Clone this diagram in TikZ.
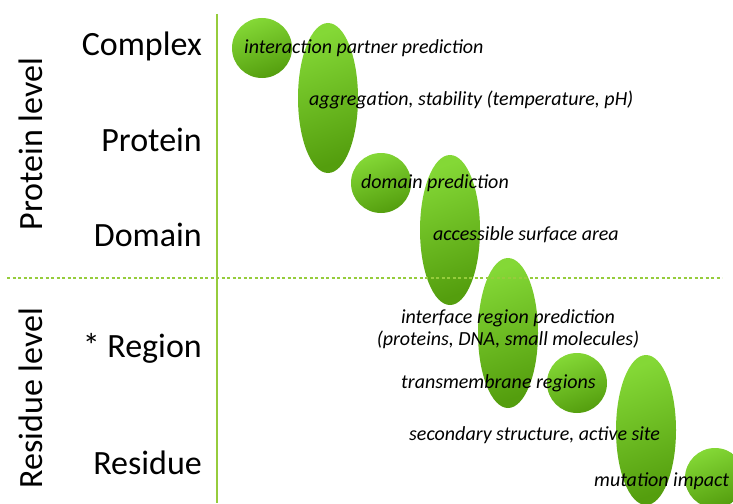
\documentclass[tikz,border=0pt]{standalone}
\usepackage{fontspec}
\setmainfont{Carlito}
\usetikzlibrary{shapes.geometric}
\definecolor{blobtop}{RGB}{132,216,54}
\definecolor{blobbot}{RGB}{84,158,14}
\definecolor{axisgreen}{RGB}{150,204,60}
\tikzset{
  blob/.style={ellipse, inner sep=0pt, top color=blobtop, bottom color=blobbot, shading angle=20},
  circblob/.style={blob, minimum width=60pt, minimum height=60pt},
  longblob/.style={blob, minimum width=60pt, minimum height=150pt},
  levellabel/.style={font=\fontsize{34}{40}\selectfont, inner sep=0pt, anchor=base east},
  sidelabel/.style={font=\fontsize{34}{40}\selectfont, inner sep=0pt, anchor=base, rotate=90},
  task/.style={font=\fontsize{20}{24}\selectfont\itshape, inner sep=0pt, anchor=base west},
  taskc/.style={task, anchor=base},
  axisline/.style={draw=axisgreen, line width=1.3pt},
  sepline/.style={draw=axisgreen, line width=1.3pt, dash pattern=on 3pt off 2.5pt}
}
\begin{document}
\begin{tikzpicture}[x=1pt,y=-1pt]
\useasboundingbox (0,0) rectangle (733,503);
\clip (0,0) rectangle (733,503);
% blobs
\node[circblob] (b1) at (262,48) {};
\node[longblob] (b2) at (328,98) {};
\node[circblob] (b3) at (381,183) {};
\node[longblob] (b4) at (450,230) {};
\node[longblob] (b5) at (508,333) {};
\node[circblob] (b6) at (577,383) {};
\node[longblob] (b7) at (646,430) {};
\node[circblob] (b8) at (715,478) {};
% axes
\coordinate (vtop) at (217,14);
\coordinate (vbot) at (217,503);
\draw[axisline] (vtop) -- (vbot);
\coordinate (hleft) at (7,278);
\coordinate (hright) at (722,278);
\draw[sepline] (hleft) -- (hright);
% level labels
\node[levellabel] (complex) at (202,56) {Complex};
\node[levellabel] (protein) at (202,151) {Protein};
\node[levellabel] (domain) at (202,246) {Domain};
\node[levellabel] (region) at (202,357) {* Region};
\node[levellabel] (residue) at (202,474) {Residue};
\node[sidelabel] (plevel) at (42,144) {Protein level};
\node[sidelabel] (rlevel) at (42,398) {Residue level};
% tasks
\node[task] (t1) at (244,53) {interaction partner prediction};
\node[task] (t2) at (309,105) {aggregation, stability (temperature, pH)};
\node[task] (t3) at (361,188) {domain prediction};
\node[task] (t4) at (433,240) {accessible surface area};
\node[taskc] (t5a) at (508,323) {interface region prediction};
\node[taskc] (t5b) at (508,345) {(proteins, DNA, small molecules)};
\node[task] (t6) at (401,388) {transmembrane regions};
\node[task] (t7) at (409,440) {secondary structure, active site};
\node[task] (t8) at (594,486) {mutation impact};
\end{tikzpicture}
\end{document}
